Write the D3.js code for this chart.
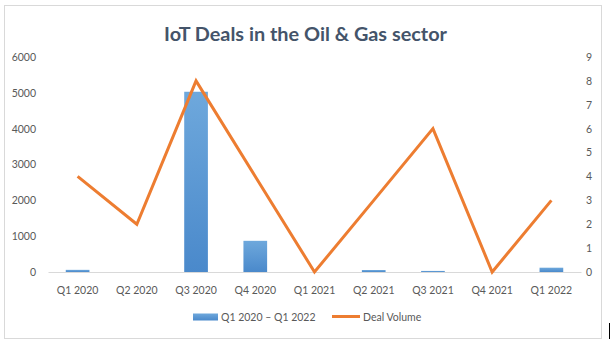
<!DOCTYPE html>
<html><head><meta charset="utf-8">
<script src="https://cdn.jsdelivr.net/npm/d3@7"></script>
<style>body{margin:0;background:#fff;} svg{display:block;}</style>
</head><body>
<svg id="c" width="612" height="339"></svg>
<script>
const categories = ["Q1 2020","Q2 2020","Q3 2020","Q4 2020","Q1 2021","Q2 2021","Q3 2021","Q4 2021","Q1 2022"];
const dealValue = [60, 0, 5030, 870, 0, 55, 30, 0, 120];
const dealVolume = [4, 2, 8, 4, 0, 3, 6, 0, 3];
const leftTicks = [0,1000,2000,3000,4000,5000,6000];
const rightTicks = [0,1,2,3,4,5,6,7,8,9];
const barName = "Q1 2020 – Q1 2022";
const lineName = "Deal Volume";
const title = "IoT Deals in the Oil & Gas sector";

(function(){
const svg = d3.select("#c");
const font = "Lato, 'Open Sans', sans-serif";
const pl = 48, pr = 581, pt = 57, pb = 272;

svg.append("rect").attr("x",4.5).attr("y",5.5).attr("width",597).attr("height",333)
  .attr("fill","#fff").attr("stroke","#d9d9d9");
svg.append("line").attr("x1",609.5).attr("x2",609.5).attr("y1",323).attr("y2",339).attr("stroke","#000");

const defs = svg.append("defs");
const g = defs.append("linearGradient").attr("id","bg").attr("x1",0).attr("y1",0).attr("x2",0).attr("y2",1);
g.append("stop").attr("offset","0%").attr("stop-color","#6ea8dc");
g.append("stop").attr("offset","100%").attr("stop-color","#4a89cb");

const x = d3.scaleBand().domain(categories).range([pl,pr]).paddingInner(0.6).paddingOuter(0.3);
const xp = d3.scalePoint().domain(categories).range([pl,pr]).padding(0.5);
const yL = d3.scaleLinear().domain([0,6000]).range([pb,pt]);
const yR = d3.scaleLinear().domain([0,9]).range([pb,pt]);

const t = svg.append("text").attr("x",305.5).attr("y",41).attr("text-anchor","middle")
  .attr("font-family",font).attr("font-weight","bold").attr("font-size",21)
  .attr("fill","#44546a").text(title);
const w = t.node().getComputedTextLength();
t.attr("font-size", 21*283/w);

svg.append("g").selectAll("rect").data(categories).join("rect")
  .attr("x", d=>x(d)).attr("width", x.bandwidth())
  .attr("y", (d,i)=>yL(dealValue[i])).attr("height",(d,i)=>pb-yL(dealValue[i]))
  .attr("fill","url(#bg)");

const xAxis = svg.append("g").attr("transform",`translate(0,${pb})`)
  .call(d3.axisBottom(x).tickSize(0).tickPadding(15));
xAxis.select(".domain").attr("stroke","#d9d9d9");
xAxis.selectAll("text").attr("font-family",font).attr("font-size",10.5).attr("fill","#595959");

const lAxis = svg.append("g").attr("transform",`translate(${pl},0)`)
  .call(d3.axisLeft(yL).tickValues(leftTicks).tickFormat(d3.format("d")).tickSize(0).tickPadding(12));
lAxis.select(".domain").remove();
lAxis.selectAll("text").attr("font-family",font).attr("font-size",10.5).attr("fill","#595959");

const rAxis = svg.append("g").attr("transform",`translate(${pr},0)`)
  .call(d3.axisRight(yR).tickValues(rightTicks).tickSize(0).tickPadding(5));
rAxis.select(".domain").remove();
rAxis.selectAll("text").attr("font-family",font).attr("font-size",10.5).attr("fill","#595959");

const line = d3.line().x((d,i)=>xp(categories[i])).y(d=>yR(d));
svg.append("path").datum(dealVolume).attr("d",line).attr("fill","none")
  .attr("stroke","#ed7d31").attr("stroke-width",3).attr("stroke-linejoin","miter");

const lg = svg.append("g").attr("font-family",font).attr("font-size",10.5).attr("fill","#595959");
lg.append("rect").attr("x",193).attr("y",313.5).attr("width",25).attr("height",7).attr("fill","url(#bg)");
lg.append("text").attr("x",221).attr("y",320.5).text(barName);
lg.append("line").attr("x1",332).attr("x2",360).attr("y1",316.5).attr("y2",316.5)
  .attr("stroke","#ed7d31").attr("stroke-width",3);
lg.append("text").attr("x",363).attr("y",320.5).text(lineName);
})();
</script>
</body></html>
